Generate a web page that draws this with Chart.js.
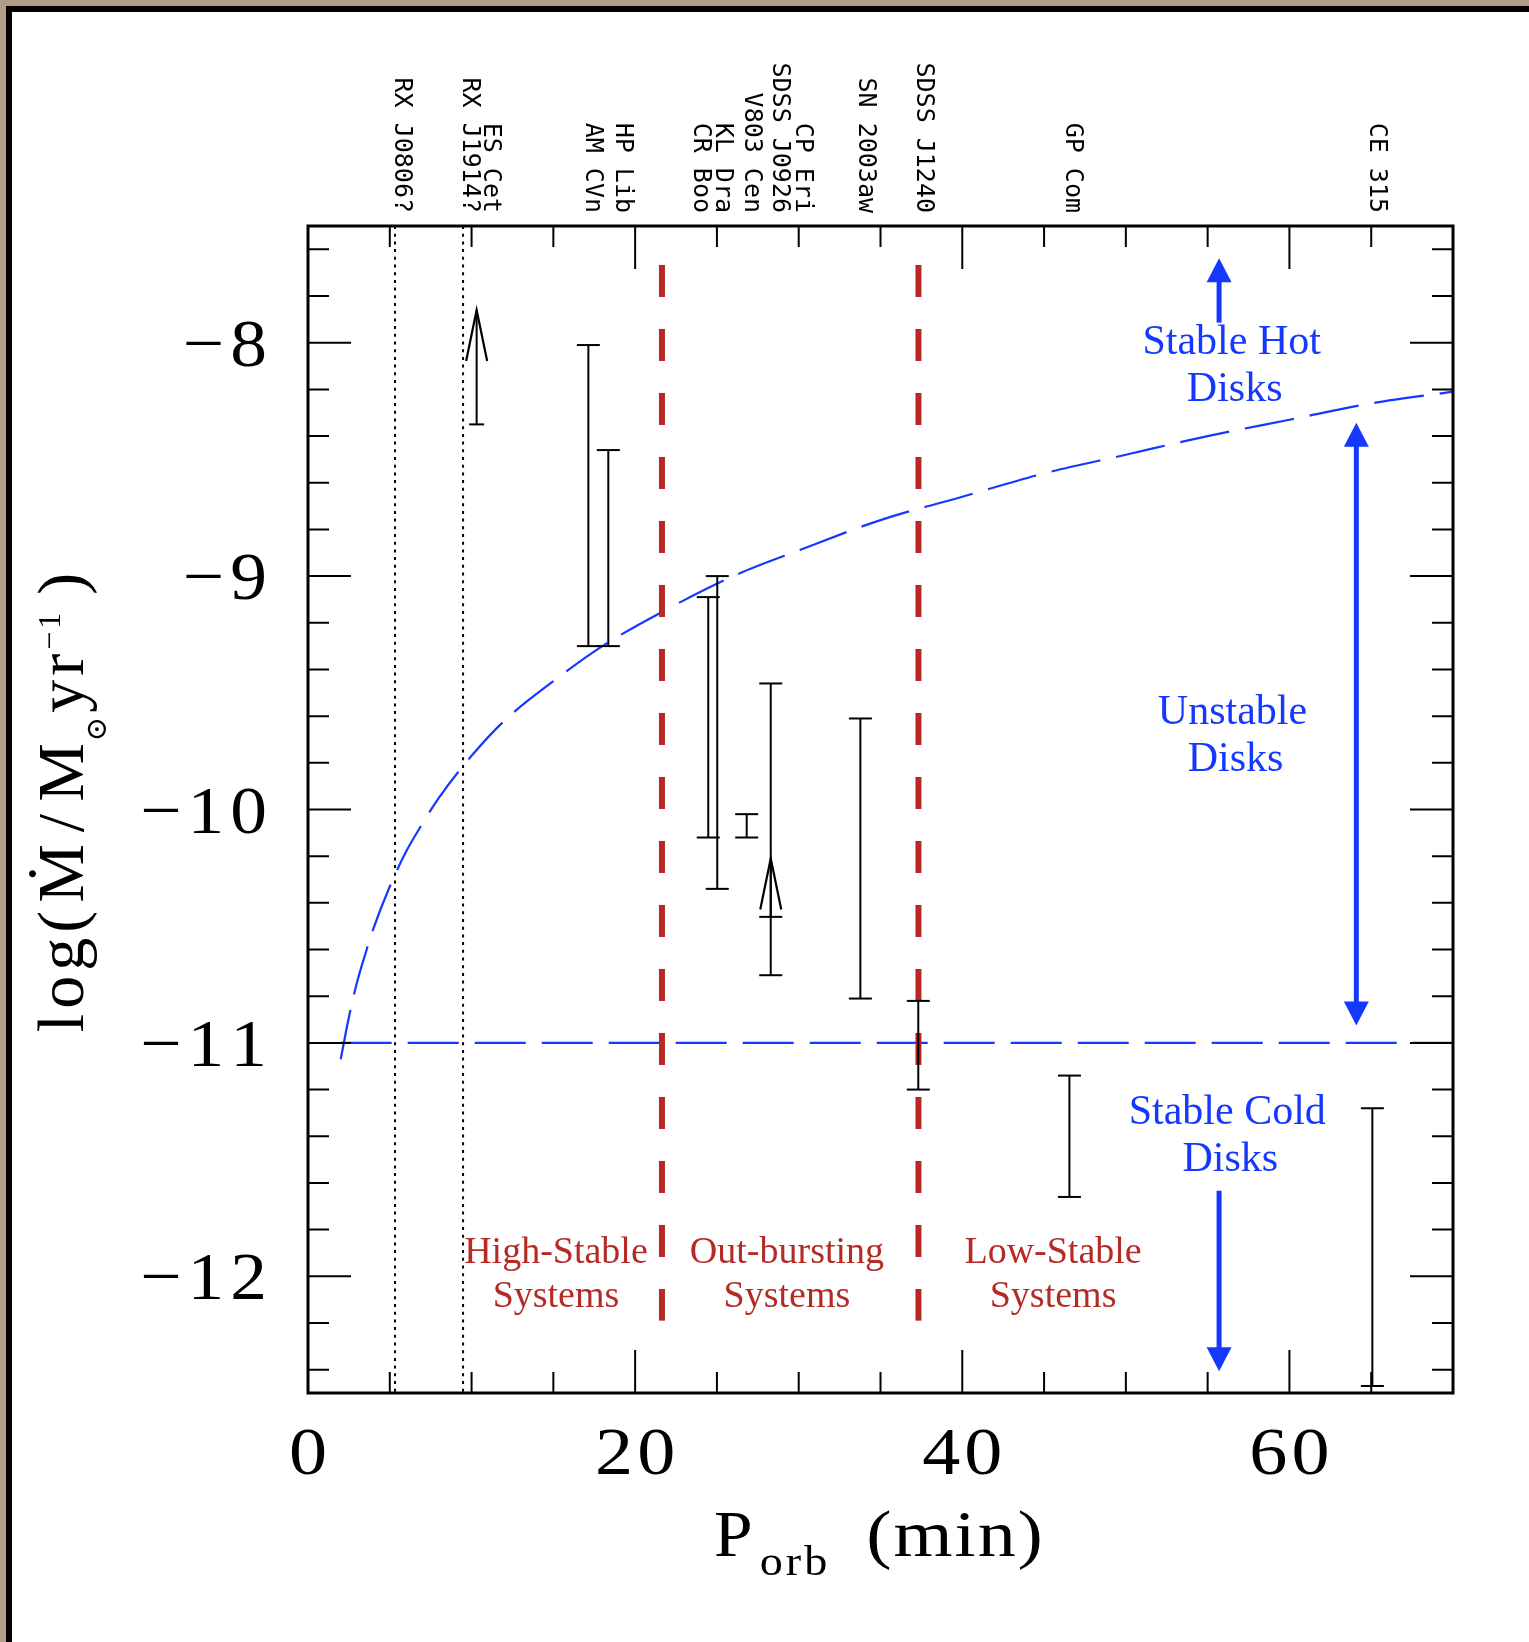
<!DOCTYPE html>
<html>
<head>
<meta charset="utf-8">
<title>AM CVn accretion rates</title>
<script src="https://cdn.jsdelivr.net/npm/chart.js@4.4.1/dist/chart.umd.min.js"></script>
<style>
	html, body { margin: 0; padding: 0; background: #fff; }
	canvas { display: block; }
</style>
</head>
<body>
<canvas id="chart" width="1529" height="1642"></canvas>
<script>
// Axis ranges and labelled ticks
const xRange = [0, 70];
const yRange = [-12.5, -7.5];
const xTickLabels = [0, 20, 40, 60];
const yTickLabels = [-8, -9, -10, -11, -12];

// Systems with a measured range: period (min), low and high log Mdot
const barNames = ['AM CVn', 'HP Lib', 'CR Boo', 'KL Dra', 'V803 Cen', 'SDSS J0926', 'SN 2003aw', 'SDSS J1240', 'GP Com', 'CE 315'];
const barPeriods = [17.14, 18.36, 24.47, 25.02, 26.82, 28.29, 33.77, 37.31, 46.55, 65.07];
const barLow = [-9.30, -9.30, -10.12, -10.34, -10.12, -10.71, -10.81, -11.20, -11.66, -12.47];
const barHigh = [-8.01, -8.46, -9.09, -9.00, -10.02, -9.46, -9.61, -10.82, -11.14, -11.28];
const barCap = [11.5, 11.5, 11.5, 11.5, 11.5, 11.5, 11.5, 11.5, 11.5, 11.5];

// Lower limits (drawn as arrows)
const limitNames = ['ES Cet', 'CP Eri'];
const limitPeriods = [10.31, 28.29];
const limitBase = [-8.35, -10.46];
const limitTip = [-7.86, -10.21];
const limitCap = [7.5, 11.5];

// Candidate periods, dotted
const candidatePeriods = [5.32, 9.48];

// Hot-disk stability limit
const hotLimitP = [2.0, 2.5, 3, 3.5, 4, 5, 6, 7, 8, 10, 12, 15, 18, 22, 26, 30, 35, 40, 45, 50, 55, 60, 65, 70];
const hotLimitLog = [-11.07, -10.89, -10.74, -10.62, -10.51, -10.33, -10.18, -10.06, -9.95, -9.77, -9.62, -9.45, -9.30, -9.14, -9.00, -8.89, -8.76, -8.66, -8.56, -8.48, -8.40, -8.33, -8.26, -8.21];

// Cold-disk stability limit
const coldLimitP = [2.0, 70];
const coldLimitLog = [-11, -11];

// Boundaries between system classes
const classBounds = [21.64, 37.32];
const classBoundSpan = [-7.667, -12.19];

// Regime arrows (blue)
const regimeArrowP = [55.7, 64.09, 55.7];
const regimeArrowFrom = [-7.914, -10.925, -11.633];
const regimeArrowTo = [-7.638, -8.343, -12.407];
const regimeArrowBoth = [false, true, false];

// Text notes, anchored at first-line baseline in data units
const regimeText = [['Stable Hot', 'Disks'], ['Unstable', 'Disks'], ['Stable Cold', 'Disks']];
const regimeAt = [[56.47, -8.048], [56.52, -9.634], [56.2, -11.347]];
const classText = [['High-Stable', 'Systems'], ['Out-bursting', 'Systems'], ['Low-Stable', 'Systems']];
const classAt = [[15.16, -11.943], [29.28, -11.943], [45.55, -11.943]];

// Object names along the top
const topLabels = ['RX J0806?', 'RX J1914?', 'ES Cet', 'AM CVn', 'HP Lib', 'CR Boo', 'KL Dra', 'V803 Cen', 'SDSS J0926', 'CP Eri', 'SN 2003aw', 'SDSS J1240', 'GP Com', 'CE 315'];
const topLabelAt = [5.32, 9.48, 10.78, 16.98, 18.81, 23.58, 24.94, 26.69, 28.40, 29.85, 33.71, 37.22, 46.35, 64.93];

const ink = '#000';
const blue = '#1538ff';
const red = '#b52a25';
const serif = '"Liberation Serif", "DejaVu Serif", serif';
const mono = '"DejaVu Sans Mono", monospace';

/*
* Datasets
*/
function buildDatasets() {
	let sets = [];

	barPeriods.forEach((p, i) => {
		sets.push({
			label: barNames[i],
			data: [{ x: p, y: barHigh[i] }, { x: p, y: barLow[i] }],
			showLine: true,
			borderColor: ink,
			borderWidth: 2,
			pointStyle: 'line',
			pointRadius: barCap[i],
			pointBorderWidth: 2,
			pointBorderColor: ink,
		});
	});

	limitPeriods.forEach((p, i) => {
		sets.push({
			label: limitNames[i],
			data: [{ x: p, y: limitBase[i] }, { x: p, y: limitTip[i] }],
			showLine: true,
			borderColor: ink,
			borderWidth: 2,
			pointStyle: 'line',
			pointRadius: [limitCap[i], 0],
			pointBorderWidth: 2,
			pointBorderColor: ink,
		});
	});

	candidatePeriods.forEach(p => {
		sets.push({
			data: [{ x: p, y: yRange[1] }, { x: p, y: yRange[0] }],
			showLine: true,
			borderColor: ink,
			borderWidth: 2,
			borderDash: [3, 4.7],
			pointRadius: 0,
		});
	});

	classBounds.forEach(p => {
		sets.push({
			data: [{ x: p, y: classBoundSpan[0] }, { x: p, y: classBoundSpan[1] }],
			showLine: true,
			borderColor: red,
			borderWidth: 6,
			borderDash: [32, 32],
			pointRadius: 0,
		});
	});

	sets.push({
		data: hotLimitP.map((p, i) => ({ x: p, y: hotLimitLog[i] })),
		showLine: true,
		borderColor: blue,
		borderWidth: 2.2,
		borderDash: [50, 16],
		cubicInterpolationMode: 'monotone',
		pointRadius: 0,
	});

	sets.push({
		data: coldLimitP.map((p, i) => ({ x: p, y: coldLimitLog[i] })),
		showLine: true,
		borderColor: blue,
		borderWidth: 2.2,
		borderDash: [51, 16],
		pointRadius: 0,
	});

	return sets;
}

/*
* Text helpers
*/
// Writes a string char by char with extra spacing and a horizontal
// stretch (the serif faces here run narrower than TeX's), returns width
function spaced(ctx, str, x, y, gap, align, stretch = 1, draw = true) {
	let chars = Array.from(str);
	let widths = chars.map(c => ctx.measureText(c).width * stretch);
	let total = widths.reduce((a, b) => a + b, 0) + gap * (chars.length - 1);
	if (!draw) return total;

	let cx = align === 'right' ? x - total : align === 'center' ? x - total / 2 : x;
	ctx.textAlign = 'left';
	chars.forEach((c, i) => {
		ctx.save();
		ctx.translate(cx, y);
		ctx.scale(stretch, 1);
		ctx.fillText(c, 0, 0);
		ctx.restore();
		cx += widths[i] + gap;
	});
	return total;
}

// Runs of differently sized text on one baseline (sub/superscripts)
function runs(ctx, parts, x, y, draw = true) {
	let cx = x;
	parts.forEach((r, i) => {
		ctx.font = `${r.size}px ${serif}`;
		cx += spaced(ctx, r.text, cx, y + (r.dy || 0), r.gap || 0, 'left', r.stretch || 1, draw);
		if (i < parts.length - 1) cx += r.after || 0;
	});
	return cx - x;
}

function arrowHead(ctx, x, y, dir, len, half, open) {
	ctx.beginPath();
	ctx.moveTo(x - half, y + dir * len);
	ctx.lineTo(x, y);
	ctx.lineTo(x + half, y + dir * len);
	if (open) {
		ctx.stroke();
	} else {
		ctx.closePath();
		ctx.fill();
	}
}

/*
* Frame, axes and annotations
*/
const figurePlugin = {
	id: 'figure',
	beforeDraw(chart) {
		let { ctx, width, height } = chart;
		ctx.save();
		ctx.fillStyle = '#fff';
		ctx.fillRect(0, 0, width, height);
		ctx.fillStyle = '#b09d86';
		ctx.fillRect(0, 0, width, 6);
		ctx.fillRect(0, 0, 6, height);
		ctx.fillStyle = '#000';
		ctx.fillRect(6, 6, width - 6, 6);
		ctx.fillRect(6, 6, 6, height - 6);
		ctx.restore();
	},
	afterDatasetsDraw(chart) {
		let { ctx, chartArea: area, scales } = chart;
		let sx = v => scales.x.getPixelForValue(v);
		let sy = v => scales.y.getPixelForValue(v);

		ctx.save();
		ctx.strokeStyle = ink;
		ctx.fillStyle = ink;

		// Plot box
		ctx.lineWidth = 3;
		ctx.strokeRect(area.left, area.top, area.right - area.left, area.bottom - area.top);

		// Inward ticks on all four sides
		ctx.lineWidth = 2;
		ctx.beginPath();
		for (let v = 5; v < xRange[1]; v += 5) {
			let len = v % 20 === 0 ? 43 : 21;
			let x = sx(v);
			ctx.moveTo(x, area.bottom);
			ctx.lineTo(x, area.bottom - len);
			ctx.moveTo(x, area.top);
			ctx.lineTo(x, area.top + len);
		}
		for (let k = -62; k <= -38; k++) {
			let len = k % 5 === 0 ? 43 : 21;
			let y = sy(k / 5);
			ctx.moveTo(area.left, y);
			ctx.lineTo(area.left + len, y);
			ctx.moveTo(area.right, y);
			ctx.lineTo(area.right - len, y);
		}
		ctx.stroke();

		// Tick labels
		ctx.textBaseline = 'alphabetic';
		ctx.font = `68px ${serif}`;
		xTickLabels.forEach(v => {
			spaced(ctx, String(v), sx(v), area.bottom + 81, 4, 'center', 1.12);
		});
		yTickLabels.forEach(v => {
			spaced(ctx, '\u2212' + Math.abs(v), area.left - 41, sy(v) + 23, 6, 'right', 1.08);
		});

		// Axis titles
		let xTitle = [
			{ text: 'P', size: 66, after: 7, stretch: 1.05 },
			{ text: 'orb', size: 42, dy: 19, gap: 3, stretch: 1.1, after: 39 },
			{ text: '(min)', size: 66, gap: 2, stretch: 1.15 },
		];
		let w = runs(ctx, xTitle, 0, 0, false);
		runs(ctx, xTitle, (area.left + area.right) / 2 - 2 - w / 2, area.bottom + 163);

		let yTitle = [
			{ text: 'log(', size: 66, gap: 5, after: 8 },
			{ text: '\u1E40', size: 66, after: 12 },
			{ text: '/', size: 66, after: 12 },
			{ text: 'M', size: 66, after: 2 },
			{ text: '\u2299', size: 29, dy: 23, after: 4 },
			{ text: 'yr', size: 66, gap: 4, after: 4 },
			{ text: '\u22121', size: 32, dy: -23, gap: 3, after: 18 },
			{ text: ')', size: 66 },
		];
		w = runs(ctx, yTitle, 0, 0, false);
		ctx.save();
		ctx.translate(83, (area.top + area.bottom) / 2 - 7 + w / 2);
		ctx.rotate(-Math.PI / 2);
		runs(ctx, yTitle, 0, 0);
		ctx.restore();

		// Object names
		ctx.font = `25px ${mono}`;
		topLabels.forEach((name, i) => {
			ctx.save();
			ctx.translate(sx(topLabelAt[i]), area.top - 13);
			ctx.rotate(Math.PI / 2);
			ctx.textAlign = 'right';
			ctx.fillText(name, 0, 0);
			ctx.restore();
		});

		// Lower-limit arrowheads
		ctx.lineWidth = 2.2;
		limitPeriods.forEach((p, i) => {
			arrowHead(ctx, sx(p), sy(limitTip[i]), 1, 51, 10.5, true);
		});

		// Regime arrows
		ctx.strokeStyle = blue;
		ctx.fillStyle = blue;
		ctx.lineWidth = 5;
		regimeArrowP.forEach((p, i) => {
			let x = sx(p);
			let y0 = sy(regimeArrowFrom[i]);
			let y1 = sy(regimeArrowTo[i]);
			let dir = y1 < y0 ? 1 : -1;
			ctx.beginPath();
			ctx.moveTo(x, regimeArrowBoth[i] ? y0 - dir * 20 : y0);
			ctx.lineTo(x, y1 + dir * 20);
			ctx.stroke();
			arrowHead(ctx, x, y1, dir, 24, 12.5, false);
			if (regimeArrowBoth[i]) arrowHead(ctx, x, y0, -dir, 24, 12.5, false);
		});

		// Regime and class notes
		ctx.font = `42px ${serif}`;
		ctx.textAlign = 'center';
		regimeText.forEach((lines, i) => {
			lines.forEach((t, j) => ctx.fillText(t, sx(regimeAt[i][0]) + j * 3, sy(regimeAt[i][1]) + j * 47));
		});
		ctx.fillStyle = red;
		ctx.font = `38px ${serif}`;
		classText.forEach((lines, i) => {
			lines.forEach((t, j) => ctx.fillText(t, sx(classAt[i][0]), sy(classAt[i][1]) + j * 44));
		});

		ctx.restore();
	}
};

window.onload = () => {
	let context = document.querySelector('#chart');

	new Chart(context, {
		type: 'scatter',
		data: { datasets: buildDatasets() },
		options: {
			responsive: false,
			animation: false,
			events: [],
			layout: { padding: { left: 308, top: 226, right: 76, bottom: 249 } },
			scales: {
				x: { type: 'linear', min: xRange[0], max: xRange[1], display: false },
				y: { type: 'linear', min: yRange[0], max: yRange[1], display: false },
			},
			plugins: {
				legend: { display: false },
				tooltip: { enabled: false },
			},
		},
		plugins: [figurePlugin],
	});
};
</script>
</body>
</html>
